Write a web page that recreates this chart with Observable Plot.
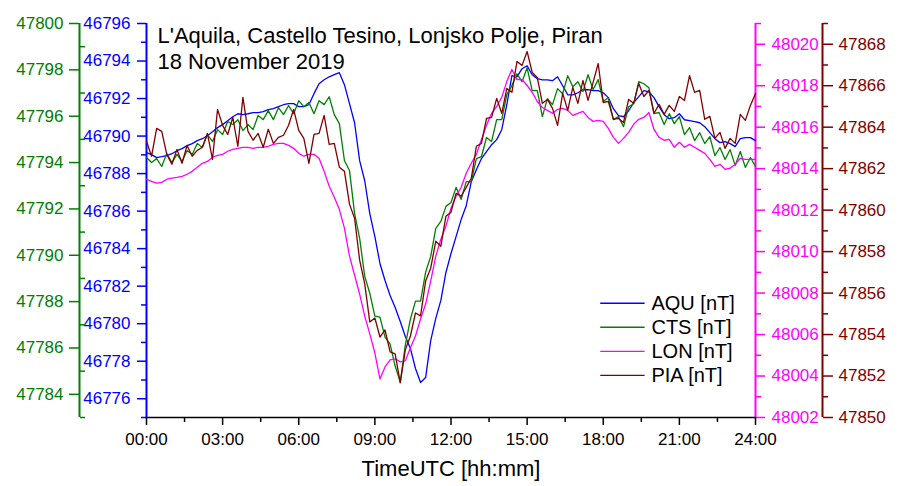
<!DOCTYPE html>
<html><head><meta charset="utf-8">
<script src="https://cdn.jsdelivr.net/npm/d3@7"></script>
<script src="https://cdn.jsdelivr.net/npm/@observablehq/plot@0.6"></script>
<style>
body{margin:0;background:#fff;}
#chart{width:899px;height:486px;}
</style></head><body><div id="chart"></div>
<script>
// ---- data (nT), sampled every 0.2 h (12 min) from 00:00 to 24:00 ----
const stepHours = 0.2;
const aqu = [
46789.12,46789.01,46788.85,46788.90,46788.96,46789.06,46789.22,46789.33,46789.49,46789.60,
46789.76,46789.86,46790.02,46790.23,46790.45,46790.61,46790.82,46791.03,46791.19,46791.14,
46791.19,46791.25,46791.25,46791.30,46791.41,46791.46,46791.57,46791.67,46791.73,46791.73,
46791.57,46791.57,46791.67,46792.26,46792.79,46793.00,46793.16,46793.27,46793.38,46792.74,
46791.73,46790.71,46788.69,46787.62,46785.87,46784.64,46783.21,46782.30,46781.50,46780.86,
46780.12,46779.32,46778.68,46777.61,46776.87,46777.13,46779.10,46780.28,46781.24,46782.73,
46783.74,46784.64,46785.55,46786.29,46787.57,46788.21,46788.80,46789.17,46789.54,46789.81,
46790.34,46791.67,46793.22,46793.16,46793.59,46793.75,46793.27,46793.06,46793.00,46793.00,
46792.95,46793.16,46792.68,46792.20,46792.20,46792.31,46792.47,46792.47,46792.42,46792.42,
46792.31,46792.05,46791.46,46791.09,46791.03,46791.35,46791.78,46792.10,46792.42,46792.36,
46792.05,46791.57,46791.14,46790.93,46790.98,46791.19,46790.87,46790.82,46790.77,46790.71,
46790.50,46790.18,46789.86,46789.65,46789.70,46789.60,46789.44,46789.86,46789.92,46789.92,
46789.76];
const cts = [
47794.22,47794.00,47794.17,47793.83,47794.39,47794.00,47794.35,47794.05,47794.52,47794.35,
47794.82,47794.65,47795.21,47794.91,47795.42,47795.21,47795.77,47795.64,47795.85,47795.38,
47795.64,47795.42,47796.03,47795.85,47796.24,47795.85,47796.37,47796.07,47796.46,47796.11,
47796.67,47796.41,47796.59,47796.11,47796.67,47796.50,47796.84,47796.07,47795.68,47794.09,
47793.66,47791.81,47790.73,47789.09,47788.36,47787.37,47787.33,47786.47,47786.17,47785.22,
47784.53,47786.12,47787.24,47788.02,47788.02,47789.27,47789.95,47791.16,47791.46,47792.11,
47792.28,47792.93,47792.41,47793.18,47793.18,47794.17,47794.26,47795.08,47794.91,47795.85,
47795.85,47796.93,47797.32,47797.83,47797.49,47798.09,47797.10,47797.10,47795.98,47796.76,
47796.50,47797.19,47796.97,47797.75,47797.27,47797.49,47797.06,47797.79,47797.15,47797.58,
47796.63,47796.80,47795.85,47795.98,47795.55,47796.41,47796.54,47797.49,47797.40,47797.23,
47796.11,47796.16,47795.64,47796.11,47795.68,47795.98,47795.21,47795.51,47794.95,47795.29,
47794.82,47795.12,47794.30,47794.65,47794.13,47794.56,47793.87,47794.48,47793.79,47794.22,
47793.83];
const lon = [
48013.49,48013.39,48013.30,48013.34,48013.49,48013.54,48013.58,48013.63,48013.73,48013.87,
48014.07,48014.26,48014.35,48014.55,48014.64,48014.69,48014.84,48014.93,48014.98,48015.03,
48015.03,48014.98,48015.03,48015.03,48015.08,48015.17,48015.22,48015.22,48015.12,48014.98,
48014.74,48014.60,48014.69,48014.69,48014.50,48013.87,48013.15,48012.62,48012.04,48011.13,
48009.78,48008.87,48007.95,48006.89,48006.03,48005.11,48003.86,48004.44,48004.78,48004.83,
48004.68,48004.73,48005.36,48005.93,48006.75,48007.47,48008.58,48009.78,48010.60,48011.23,
48012.09,48012.67,48013.10,48013.78,48014.26,48014.69,48015.41,48016.09,48016.67,48017.00,
48017.44,48018.21,48018.78,48018.30,48018.30,48018.01,48017.68,48017.24,48016.95,48016.81,
48016.67,48016.86,48016.91,48016.81,48016.57,48016.67,48016.76,48016.47,48016.28,48016.33,
48016.28,48015.94,48015.51,48015.22,48015.46,48015.75,48016.14,48016.38,48016.47,48016.71,
48015.89,48015.51,48015.37,48015.41,48015.03,48015.27,48015.03,48015.17,48015.03,48014.88,
48014.74,48014.45,48014.11,48014.21,48013.97,48014.02,48014.21,48014.50,48014.45,48014.45,
48014.45];
const pia = [
47863.32,47862.60,47863.94,47863.80,47862.69,47862.21,47862.93,47862.26,47863.12,47862.60,
47862.88,47863.03,47863.70,47862.45,47864.86,47864.09,47863.65,47864.47,47863.08,47865.44,
47863.80,47863.37,47863.70,47863.03,47863.90,47863.22,47863.51,47863.61,47864.09,47864.86,
47863.85,47863.46,47862.26,47863.65,47863.70,47864.57,47863.17,47863.22,47862.07,47861.87,
47860.29,47859.61,47857.59,47856.44,47854.61,47854.80,47853.88,47854.22,47853.16,47853.07,
47851.67,47853.26,47853.93,47855.04,47854.90,47856.58,47857.20,47858.50,47858.26,47859.71,
47859.90,47860.81,47860.67,47861.10,47861.54,47863.08,47863.22,47864.42,47864.47,47865.39,
47864.67,47865.87,47865.68,47867.17,47866.98,47867.65,47866.64,47866.40,47865.15,47865.34,
47864.91,47864.09,47865.63,47864.81,47865.92,47865.15,47866.25,47865.29,47866.16,47867.07,
47865.19,47865.24,47864.38,47864.42,47864.23,47865.34,47865.15,47866.11,47865.48,47865.77,
47864.67,47865.10,47864.62,47865.05,47864.76,47865.48,47865.29,47866.49,47865.68,47865.77,
47864.38,47864.52,47863.46,47863.75,47862.98,47863.46,47863.22,47864.62,47864.33,47865.05,
47865.63];

// ---- axis domains and tick labels ----
const aquDomain = [46775, 46796];
const ctsDomain = [47783, 47800];
const lonDomain = [48002, 48021];
const piaDomain = [47850, 47869];
const aquTicks = [46776,46778,46780,46782,46784,46786,46788,46790,46792,46794,46796];
const aquMinor = [46775,46777,46779,46781,46783,46785,46787,46789,46791,46793,46795];
const ctsTicks = [47784,47786,47788,47790,47792,47794,47796,47798,47800];
const ctsMinor = [47783,47785,47787,47789,47791,47793,47795,47797,47799];
const lonTicks = [48002,48004,48006,48008,48010,48012,48014,48016,48018,48020];
const lonMinor = [48003,48005,48007,48009,48011,48013,48015,48017,48019,48021];
const piaTicks = [47850,47852,47854,47856,47858,47860,47862,47864,47866,47868];
const piaMinor = [47851,47853,47855,47857,47859,47861,47863,47865,47867,47869];
const xTicks = [0,3,6,9,12,15,18,21,24];
const xMinor = [1.5,4.5,7.5,10.5,13.5,16.5,19.5,22.5];
const seriesNames = ["AQU [nT]","CTS [nT]","LON [nT]","PIA [nT]"];
const seriesColors = ["#0000ff","#008000","#ff00ff","#800000"];
const titleText = "L'Aquila, Castello Tesino, Lonjsko Polje, Piran\n18 November 2019";
const xLabel = "TimeUTC [hh:mm]";

// ---- build ----
const hours = aqu.map((_, i) => +(i * stepHours).toFixed(2));
const norm = (v, dom) => (v - dom[0]) / (dom[1] - dom[0]);
const unnorm = (d, dom) => Math.round(dom[0] + d * (dom[1] - dom[0]));
const series = [
  {values: aqu, domain: aquDomain, ticks: aquTicks, minor: aquMinor},
  {values: cts, domain: ctsDomain, ticks: ctsTicks, minor: ctsMinor},
  {values: lon, domain: lonDomain, ticks: lonTicks, minor: lonMinor},
  {values: pia, domain: piaDomain, ticks: piaTicks, minor: piaMinor}
].map((s, i) => ({...s, name: seriesNames[i], color: seriesColors[i],
  rows: s.values.map((v, k) => ({t: hours[k], y: norm(v, s.domain)}))}));

const [sA, sC, sL, sP] = series;
const FS = 17;
const outer = 67; // offset of the outer axes from the frame, px

function yAxis(s, anchor, dx, size, pad, minorAnchor, minorDx) {
  return [
    Plot.ruleX([anchor === "left" ? 0 : 24], {y1: 0, y2: 1, stroke: s.color, strokeWidth: 2, dx}),
    Plot.axisY({ticks: s.ticks.map(v => norm(v, s.domain)), anchor, dx, tickSize: size, tickPadding: pad,
      tickFormat: d => String(unnorm(d, s.domain)), color: s.color, fontSize: FS, strokeWidth: 1.5, label: null}),
    Plot.axisY({ticks: s.minor.map(v => norm(v, s.domain)), anchor: minorAnchor, dx: minorDx, tickSize: 5,
      fill: "none", stroke: s.color, strokeWidth: 1.5, label: null})
  ];
}

const legendRows = series.map((s, i) => ({name: s.name, color: s.color, y: 0.29 - i * 0.061}));

const chart = Plot.plot({
  width: 899, height: 486,
  marginLeft: 146, marginRight: 144, marginTop: 23, marginBottom: 69,
  style: {fontFamily: "'Liberation Sans', Arial, sans-serif", background: "#fff", color: "#000"},
  x: {domain: [0, 24], label: null},
  y: {domain: [0, 1], label: null},
  marks: [
    ...yAxis(sA, "left", 0, 9, 7, "left", 0),
    ...yAxis(sC, "left", -outer, 10, 6, "right", -(899 - 146 - 144) - outer),
    ...yAxis(sL, "right", 0, 9, 7, "right", 0),
    ...yAxis(sP, "right", outer, 10, 6, "right", outer),
    Plot.ruleY([0], {stroke: "#000", strokeWidth: 1.5}),
    Plot.axisX({ticks: xTicks, tickSize: 8, tickPadding: 7, fontSize: FS, strokeWidth: 1.5,
      tickFormat: d => String(d).padStart(2, "0") + ":00", label: null}),
    Plot.axisX({ticks: xMinor, tickSize: 5, fill: "none", strokeWidth: 1.5, label: null}),
    ...series.map(s => Plot.line(s.rows, {x: "t", y: "y", stroke: s.color, strokeWidth: 1.3})),
    ...legendRows.map(r => Plot.ruleY([r], {y: "y", x1: 17.9, x2: 19.65, stroke: r.color, strokeWidth: 1.3})),
    Plot.text(legendRows, {x: 19.9, y: "y", text: "name", textAnchor: "start", fontSize: 20, fill: "#000"}),
    Plot.text([titleText], {frameAnchor: "top-left", dx: 11, dy: 1, lineAnchor: "top", textAnchor: "start",
      fontSize: 22, lineHeight: 1.18, fill: "#000"}),
    Plot.text([xLabel], {frameAnchor: "bottom", dy: 58, fontSize: 22, fill: "#000"})
  ]
});
document.getElementById("chart").appendChild(chart);
</script></body></html>
